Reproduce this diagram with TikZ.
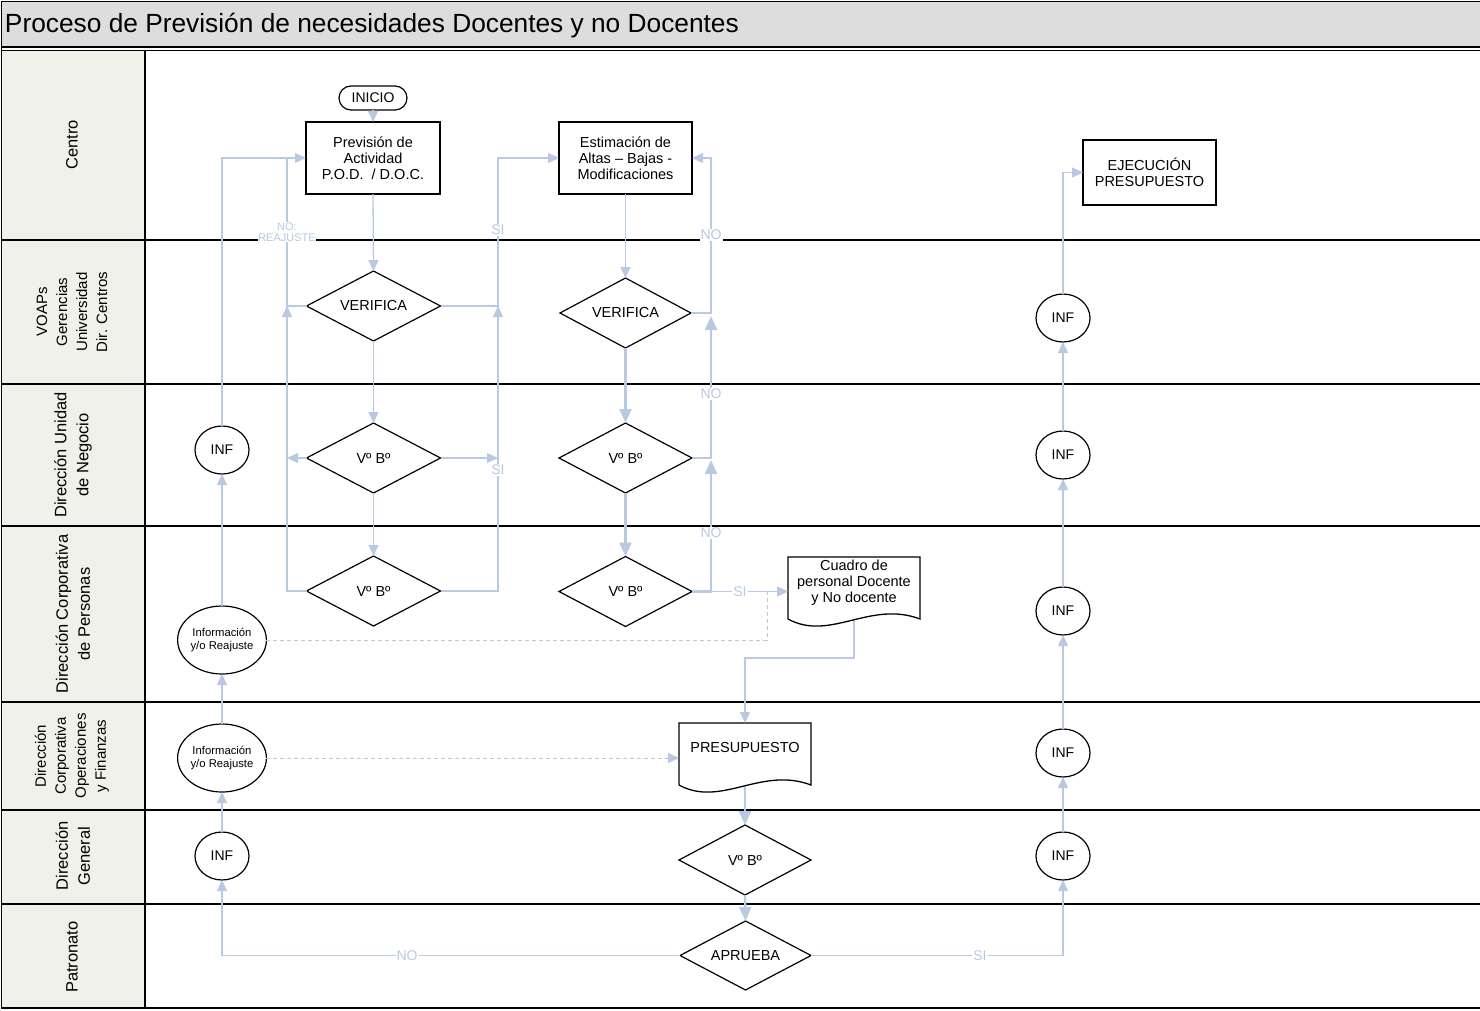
\documentclass[tikz,border=0pt]{standalone}
\usepackage{fontspec}
\setmainfont{Liberation Sans}
\usetikzlibrary{shapes.geometric,arrows.meta,calc}
\definecolor{conn}{RGB}{185,201,226}
\definecolor{lanefill}{RGB}{240,241,232}
\definecolor{titlefill}{RGB}{221,221,221}
\newcommand\fsz[2]{\fontsize{#1}{#2}\selectfont}
\begin{document}
\begin{tikzpicture}[x=1pt,y=-1pt,
 every node/.style={inner sep=0pt, outer sep=0pt},
 box/.style={draw, line width=1.3pt, align=center, font=\fsz{14.5}{16}},
 dia/.style={draw, diamond, line width=1.2pt, font=\fsz{14.5}{16}, minimum width=134pt, minimum height=70pt, aspect=2},
 circ/.style={draw, ellipse, line width=1.2pt, minimum width=54pt, minimum height=48pt, font=\fsz{14}{16}},
 infcirc/.style={draw, ellipse, line width=1.2pt, minimum width=74pt, minimum height=68pt, font=\fsz{11.3}{13}, align=center},
 lanelbl/.style={rotate=90, align=center, font=\fsz{16.5}{22}},
 lanelblsm/.style={rotate=90, align=center, font=\fsz{15}{20}},
 cn/.style={draw=conn, line width=1.3pt},
 arr/.style={cn, -{Triangle[length=11pt,width=10pt]}},
 tarr/.style={draw=conn, line width=2.3pt, -{Triangle[length=14pt,width=12pt]}},
 dsh/.style={draw=conn, line width=1pt, dash pattern=on 4pt off 3pt},
 lbl/.style={fill=white, text=conn, font=\fsz{14}{15}, inner sep=1pt},
 lblsm/.style={fill=white, text=conn, font=\fsz{11}{11}, inner sep=0.5pt, align=center},
]
\useasboundingbox (0,0) rectangle (1480,1011);
% title bar
\fill[titlefill] (1.5,1.5) rectangle (1480,47);
\fill[lanefill] (1.5,51) rectangle (145,1008);
\draw[line width=1.8pt] (1480,1.5) -- (1.5,1.5) -- (1.5,1008) -- (1480,1008);
\draw[line width=2pt] (1.5,47) -- (1480,47);
\draw[line width=1.5pt] (1.5,50.5) -- (1480,50.5);
\foreach \yy in {240,384,526,702,810,904}{\draw[line width=1.6pt] (1.5,\yy) -- (1480,\yy);}
\draw[line width=1.6pt] (145,50.5) -- (145,1008);
\node[anchor=west, font=\fsz{26.3}{30}] (title) at (5,25.5) {Proceso de Previsión de necesidades Docentes y no Docentes};
% lane labels
\node[lanelbl] (lcentro) at (72,145) {Centro};
\node[lanelblsm] (lvoap) at (72,312) {VOAPs\\Gerencias\\Universidad\\Dir. Centros};
\node[lanelbl] (lunidad) at (73,455) {Dirección Unidad\\de Negocio};
\node[lanelbl] (lpersonas) at (73,614) {Dirección Corporativa\\de Personas};
\node[lanelblsm] (loper) at (72,756) {Dirección\\Corporativa\\Operaciones\\y Finanzas};
\node[lanelbl] (lgeneral) at (73,856) {Dirección\\General};
\node[lanelbl] (lpatronato) at (72,957) {Patronato};
% nodes
\node[draw, line width=1.2pt, rounded corners=12pt, minimum width=68pt, minimum height=24pt, font=\fsz{14}{16}] (inicio) at (373,98) {INICIO};
\node[box, minimum width=134pt, minimum height=72pt] (prev) at (373,158) {Previsión de\\Actividad\\P.O.D.\ \ / D.O.C.};
\node[box, minimum width=133pt, minimum height=72pt] (est) at (625.5,158) {Estimación de\\Altas -- Bajas -\\Modificaciones};
\node[box, minimum width=133pt, minimum height=65pt] (ejec) at (1149.5,172.5) {EJECUCIÓN\\PRESUPUESTO};
\node[dia] (ver1) at (373.5,306) {VERIFICA};
\node[dia, minimum width=131pt] (ver2) at (625.5,313) {VERIFICA};
\node[dia] (vb1) at (373.5,458) {Vº Bº};
\node[dia, minimum width=133pt] (vb2) at (625.5,458) {Vº Bº};
\node[dia] (vb3) at (373.5,591) {Vº Bº};
\node[dia, minimum width=133pt] (vb4) at (625.5,591.5) {Vº Bº};
% document shapes
\draw[line width=1.3pt] (788,619) -- (788,557) -- (920,557) -- (920,619) .. controls (870,600) and (830,642) .. (788,619);
\node[align=center, font=\fsz{14.5}{16}, minimum width=132pt, minimum height=52pt] (cuadro) at (854,583) {Cuadro de\\personal Docente\\y No docente};
\draw[line width=1.3pt] (679,785) -- (679,723) -- (811,723) -- (811,785) .. controls (761,766) and (721,808) .. (679,785);
\node[font=\fsz{14.5}{16}, minimum width=132pt, minimum height=50pt] (pres) at (745,748) {PRESUPUESTO};
\coordinate (cuadrob) at (854,621);
\coordinate (presb) at (745,787);
\node[dia, minimum width=132pt] (vbdg) at (745,860) {Vº Bº};
\node[dia, minimum width=131pt, minimum height=69pt] (aprueba) at (745.5,955.5) {APRUEBA};
% left circles
\node[circ] (infL1) at (222,450) {INF};
\node[infcirc] (infoP) at (222,640) {Información\\y/o Reajuste};
\node[infcirc] (infoO) at (222,758) {Información\\y/o Reajuste};
\node[circ] (infL4) at (222,856) {INF};
% right circles
\node[circ] (infR1) at (1063,318) {INF};
\node[circ] (infR2) at (1063,455) {INF};
\node[circ] (infR3) at (1063,611) {INF};
\node[circ] (infR4) at (1063,753) {INF};
\node[circ] (infR5) at (1063,856) {INF};
% junction coordinates
\coordinate (lA) at (287,158);
\coordinate (lB) at (287,306);
\coordinate (lC) at (287,458);
\coordinate (rA) at (498,158);
\coordinate (rB) at (498,306);
\coordinate (rC) at (498,458);
\coordinate (sA) at (711,158);
\coordinate (sB) at (711,316);
\coordinate (sC) at (711,460);
\coordinate (dj) at (767,591.5);
% connectors
\path[arr] (inicio.south) -- (prev.north);
\path[arr] (prev.south) -- (ver1.north);
\path[arr] (ver1.south) -- (vb1.north);
\path[arr] (vb1.south) -- (vb3.north);
\path[arr] (infL1.north) |- (prev.west);
\path[cn] (ver1.west) -| (lA);
\path[arr] (vb3.west) -| (lB);
\path[arr] (vb1.west) -- (lC);
\path[arr] (ver1.east) -| (rA) -- (est.west);
\path[arr] (vb3.east) -| (rB);
\path[arr] (vb1.east) -- (rC);
\path[arr] (est.south) -- (ver2.north);
\path[tarr] (ver2.south) -- (vb2.north);
\path[tarr] (vb2.south) -- (vb4.north);
\path[arr] (ver2.east) -| (sA) -- (est.east);
\path[tarr] (vb2.east) -| (sB);
\path[tarr] (vb4.east) -| (sC);
\path[arr] (vb4.east) -- (vb4.east -| cuadro.west);
\path[arr] (cuadrob) -- ++(0,37) -| (pres.north);
\path[dsh] (infoP.east) -| (dj);
\path[dsh, -{Triangle[length=11pt,width=10pt]}] (infoO.east) -- (pres.west |- infoO.east);
\path[tarr] (presb) -- (vbdg.north);
\path[tarr] (vbdg.south) -- (aprueba.north);
\path[arr] (aprueba.west) -| (infL4.south);
\path[arr] (aprueba.east) -| (infR5.south);
\path[arr] (infL4.north) -- (infoO.south);
\path[arr] (infoO.north) -- (infoP.south);
\path[arr] (infoP.north) -- (infL1.south);
\path[arr] (infR5.north) -- (infR4.south);
\path[arr] (infR4.north) -- (infR3.south);
\path[arr] (infR3.north) -- (infR2.south);
\path[arr] (infR2.north) -- (infR1.south);
\path[arr] (infR1.north) |- (ejec.west);
% connector labels
\node[lblsm] (tNoReaj) at (287,232) {NO:\\REAJUSTE};
\node[lbl] (tSi1) at (498,230) {SI};
\node[lbl] (tSi2) at (498,470) {SI};
\node[lbl] (tNo1) at (711,235) {NO};
\node[lbl] (tNo2) at (711,394) {NO};
\node[lbl] (tNo3) at (711,533) {NO};
\node[lbl] (tSi3) at (740,591.5) {SI};
\node[lbl] (tNo4) at (407,955.5) {NO};
\node[lbl] (tSi4) at (980,955.5) {SI};
\end{tikzpicture}
\end{document}
